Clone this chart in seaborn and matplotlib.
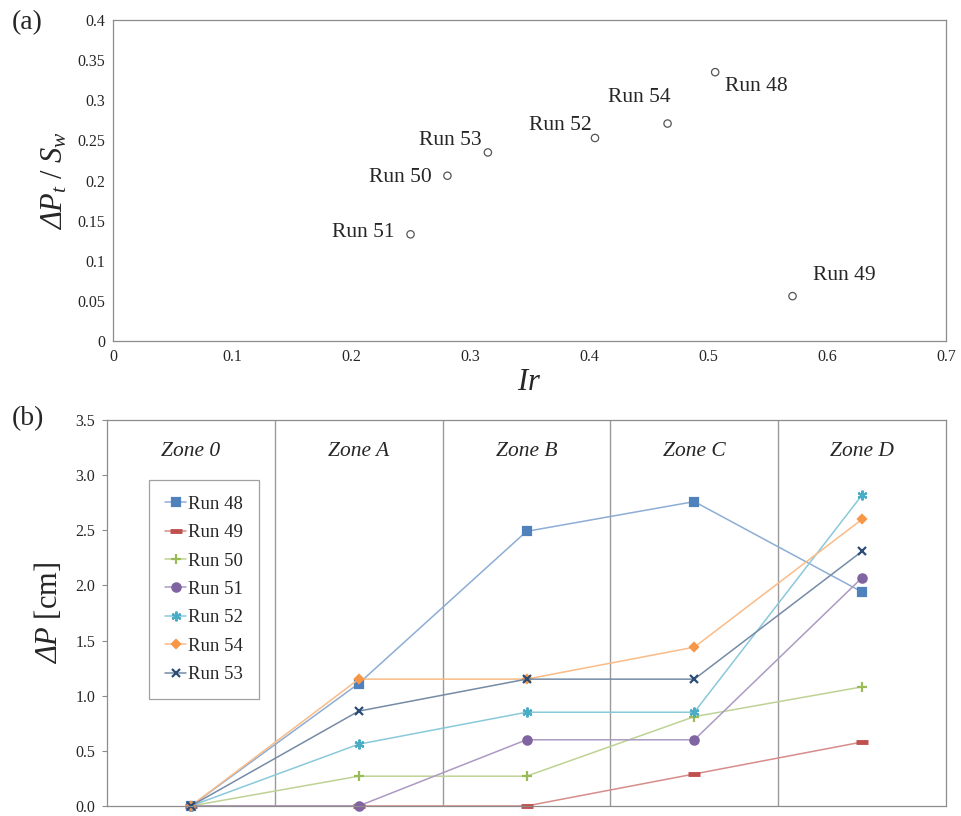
import matplotlib
matplotlib.use("Agg")
import matplotlib.pyplot as plt
import seaborn as sns
import pandas as pd
from matplotlib.colors import to_rgb

# ---- panel (a): pressure drop ratio vs Ir ----
scatter_runs = ["Run 51", "Run 50", "Run 53", "Run 52", "Run 54", "Run 48", "Run 49"]
ir_values = [0.250, 0.281, 0.315, 0.405, 0.466, 0.506, 0.571]
dp_ratio = [0.133, 0.206, 0.235, 0.253, 0.271, 0.335, 0.056]

# ---- panel (b): pressure drop per zone ----
zones = ["Zone 0", "Zone A", "Zone B", "Zone C", "Zone D"]
run_names = ["Run 48", "Run 49", "Run 50", "Run 51", "Run 52", "Run 54", "Run 53"]
run48 = [0.0, 1.11, 2.49, 2.76, 1.94]
run49 = [0.0, 0.0, 0.0, 0.29, 0.58]
run50 = [0.0, 0.27, 0.27, 0.81, 1.08]
run51 = [0.0, 0.0, 0.60, 0.60, 2.07]
run52 = [0.0, 0.56, 0.85, 0.85, 2.82]
run54 = [0.0, 1.15, 1.15, 1.44, 2.60]
run53 = [0.0, 0.86, 1.15, 1.15, 2.31]
zone_values = [run48, run49, run50, run51, run52, run54, run53]

run_colors = ["#4F81BD", "#C0504D", "#9BBB59", "#8064A2", "#4BACC6", "#F79646", "#2C4D75"]
run_markers = ["s", "_", "+", "o", (6, 2, 0), "D", "x"]
marker_sizes = [6, 9, 7, 6, 7, 4, 6]

sns.set_theme(style="white")
plt.rcParams["font.family"] = ["Liberation Serif", "DejaVu Serif"]
# math text: default (rm/it) is italic serif, \mathsf gives upright serif
plt.rcParams["mathtext.fontset"] = "custom"
plt.rcParams["mathtext.rm"] = "Liberation Serif:italic"
plt.rcParams["mathtext.it"] = "Liberation Serif:italic"
plt.rcParams["mathtext.sf"] = "Liberation Serif"

spine_gray = "#8c8c8c"

fig = plt.figure(figsize=(9.62, 8.16), dpi=100)
ax1 = fig.add_axes([0.1175, 0.582, 0.8659, 0.3935])
ax2 = fig.add_axes([0.1112, 0.0123, 0.8722, 0.4730])

# panel (a)
df_a = pd.DataFrame({"run": scatter_runs, "Ir": ir_values, "ratio": dp_ratio})
sns.scatterplot(data=df_a, x="Ir", y="ratio", ax=ax1, s=28, facecolor="none",
                edgecolor="#555555", linewidth=0.9, legend=False)

label_offsets = {
    "Run 51": (-16, 2, "right", "center"),
    "Run 50": (-16, -2, "right", "center"),
    "Run 53": (-6, 2, "right", "bottom"),
    "Run 52": (-3, 3, "right", "bottom"),
    "Run 54": (-28, 26, "center", "center"),
    "Run 48": (10, -14, "left", "center"),
    "Run 49": (20, 21, "left", "center"),
}
for name, xv, yv in zip(scatter_runs, ir_values, dp_ratio):
    dx, dy, ha, va = label_offsets[name]
    ax1.annotate(name, (xv, yv), xytext=(dx, dy), textcoords="offset pixels",
                 ha=ha, va=va, fontsize=15.5)

ax1.set_xlim(0, 0.7)
ax1.set_ylim(0, 0.4)
ax1.set_xticks([0, 0.1, 0.2, 0.3, 0.4, 0.5, 0.6, 0.7])
ax1.set_xticklabels(["0", "0.1", "0.2", "0.3", "0.4", "0.5", "0.6", "0.7"])
ax1.set_yticks([0, 0.05, 0.1, 0.15, 0.2, 0.25, 0.3, 0.35, 0.4])
ax1.set_yticklabels(["0", "0.05", "0.1", "0.15", "0.2", "0.25", "0.3", "0.35", "0.4"])
ax1.tick_params(axis="x", direction="in", length=6.5, width=0.8, color=spine_gray,
                labelsize=11.5, pad=6)
ax1.tick_params(axis="y", direction="out", length=3.5, width=0.8, color=spine_gray,
                labelsize=11.5, pad=2)
ax1.set_xlabel(r"$Ir$", fontsize=22, labelpad=2)
ax1.set_ylabel(r"$\mathit{\Delta} P_t\ \mathsf{/}\ S_w$", fontsize=22, labelpad=6)
for sp in ax1.spines.values():
    sp.set_color(spine_gray)
    sp.set_linewidth(0.9)

# panel (b)
positions = list(range(len(zones)))
for name, vals, col, mk, ms in zip(run_names, zone_values, run_colors, run_markers, marker_sizes):
    light = tuple(0.35 + 0.65 * c for c in to_rgb(col))
    df_b = pd.DataFrame({"zone": positions, "dp": vals})
    mew = 3.5 if mk == "_" else 1.6
    sns.lineplot(data=df_b, x="zone", y="dp", ax=ax2, color=light, linewidth=1.1,
                 marker=mk, markersize=ms, markerfacecolor=col, markeredgecolor=col,
                 markeredgewidth=mew, label=name, clip_on=False)

for b in [0.5, 1.5, 2.5, 3.5]:
    ax2.axvline(b, color="#9a9a9a", linewidth=1.0, zorder=0)
for i, z in enumerate(zones):
    ax2.text(i, 3.21, z, ha="center", va="center", fontsize=15.5, style="italic")

ax2.set_xlim(-0.5, 4.5)
ax2.set_ylim(0, 3.5)
ax2.set_xticks([])
ax2.set_yticks([0, 0.5, 1.0, 1.5, 2.0, 2.5, 3.0, 3.5])
ax2.set_yticklabels(["0.0", "0.5", "1.0", "1.5", "2.0", "2.5", "3.0", "3.5"])
ax2.tick_params(axis="y", direction="out", length=3.5, width=0.8, color=spine_gray,
                labelsize=11.5, pad=5, left=True)
ax2.set_xlabel("")
ax2.set_ylabel(r"$\mathit{\Delta} P\ \mathsf{[cm]}$", fontsize=22, labelpad=8)
for sp in ax2.spines.values():
    sp.set_color(spine_gray)
    sp.set_linewidth(0.9)

leg = ax2.legend(loc="upper left", bbox_to_anchor=(0.050, 0.845), frameon=True,
                 fancybox=False, edgecolor="#a0a0a0", fontsize=13.5,
                 handlelength=1.15, handletextpad=0.1, labelspacing=0.6,
                 borderpad=0.85, borderaxespad=0, framealpha=1)
leg.get_frame().set_linewidth(0.9)

fig.text(0.012, 0.972, "(a)", fontsize=20, va="center", ha="left")
fig.text(0.012, 0.487, "(b)", fontsize=20, va="center", ha="left")

fig.savefig("out.png", dpi=100)
